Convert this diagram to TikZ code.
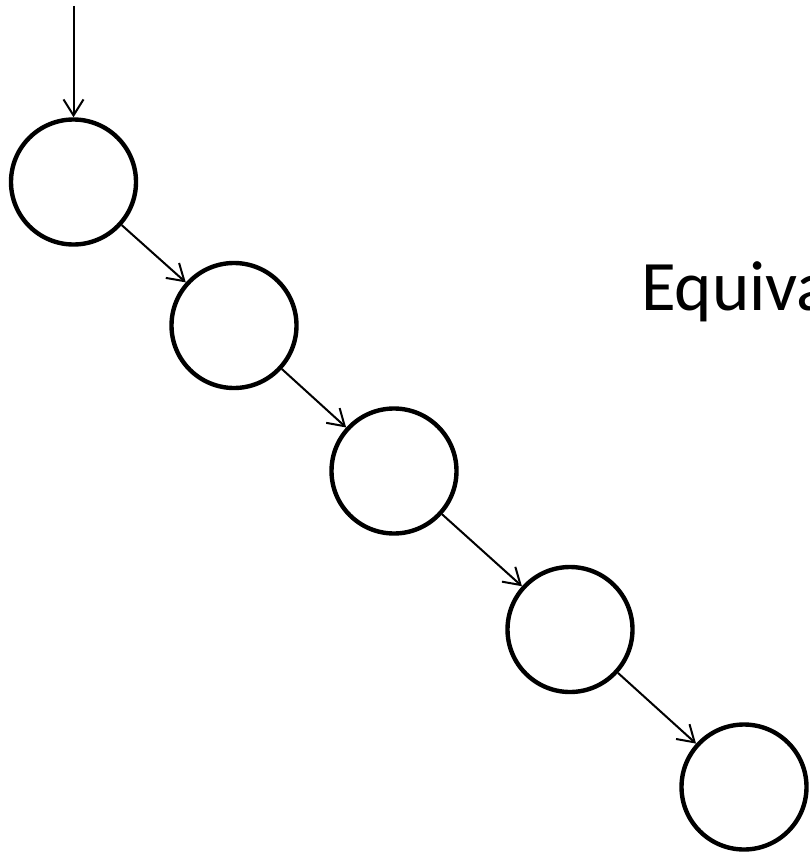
\documentclass[tikz,border=0pt]{standalone}
\usepackage{fontspec}
\setmainfont{Carlito}
\usetikzlibrary{arrows.meta}
\begin{document}
\begin{tikzpicture}[x=1pt,y=-1pt,
  state/.style={circle,draw,line width=4.4pt,minimum size=125pt,inner sep=0pt},
  link/.style={line width=2pt,-{Straight Barb[length=16pt,width=20pt,line width=2pt]}},
  label/.style={font=\fontsize{71}{85}\selectfont,anchor=base west,inner sep=0pt}]
\useasboundingbox (0,0) rectangle (810,856);
\node[state] (c1) at (73.5,182) {};
\node[state] (c2) at (234,325.5) {};
\node[state] (c3) at (394,471) {};
\node[state] (c4) at (570,629.5) {};
\node[state] (c5) at (744,787) {};
\coordinate (top) at (73.5,6);
\draw[link] (top) -- (c1);
\draw[link] (c1) -- (c2);
\draw[link] (c2) -- (c3);
\draw[link] (c3) -- (c4);
\draw[link] (c4) -- (c5);
\node[label] (eq) at (641,310) {Equivalent};
\end{tikzpicture}
\end{document}
